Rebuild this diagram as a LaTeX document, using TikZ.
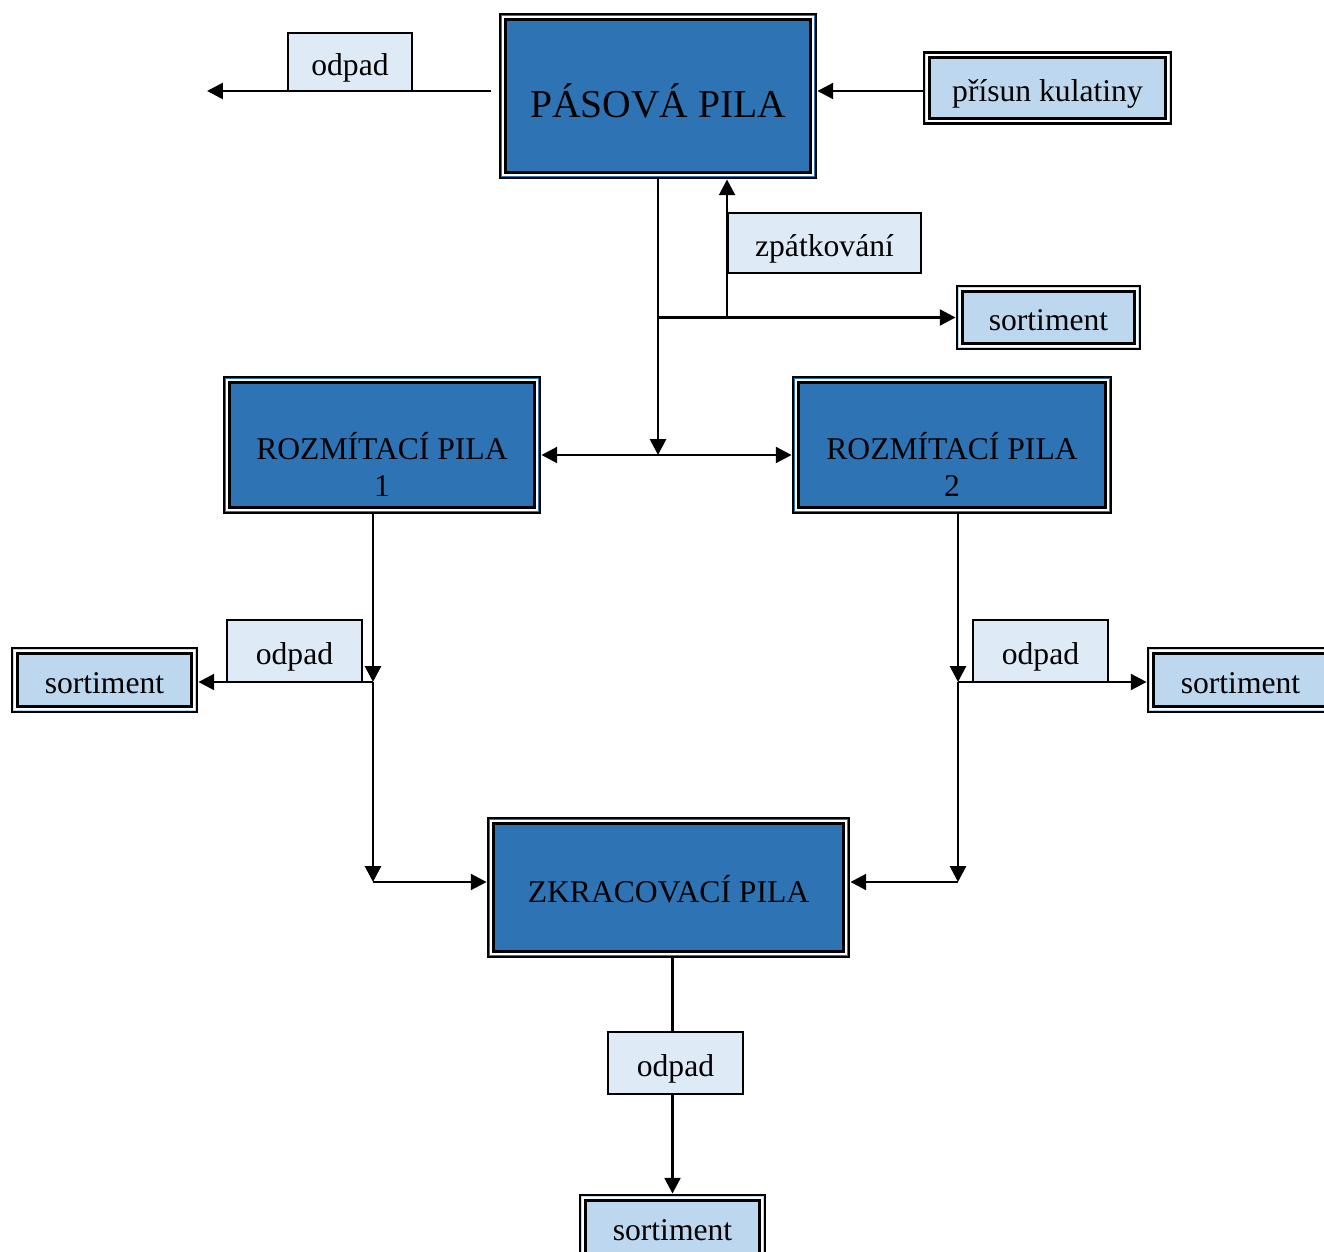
\documentclass[tikz,border=0pt]{standalone}
\usepackage{fontspec}
\setmainfont{Liberation Serif}
\usetikzlibrary{arrows.meta}
\definecolor{pila}{RGB}{46,116,181}
\definecolor{sortim}{RGB}{189,215,238}
\definecolor{odp}{RGB}{222,235,247}
\tikzset{
  spoj/.style={line width=1.6pt},
  sip/.style={spoj,-{Triangle[length=9pt,width=9pt]}},
  ramec/.style={draw, line width=1.6pt, inner sep=0pt, path picture={
      \draw[white,line width=1.1pt] ([shift={(0.055cm,-0.055cm)}]path picture bounding box.north west) rectangle ([shift={(-0.055cm,0.055cm)}]path picture bounding box.south east);
      \draw[black,line width=1.9pt] ([shift={(0.105cm,-0.105cm)}]path picture bounding box.north west) rectangle ([shift={(-0.105cm,0.105cm)}]path picture bounding box.south east);}},
  stroj/.style={ramec, fill=pila},
  popis/.style={text height=15pt, text depth=0pt},
  sortbox/.style={ramec, popis, fill=sortim, minimum width=3.7cm, minimum height=1.28cm},
  odpbox/.style={draw, popis, line width=1.1pt, fill=odp, inner sep=0pt, minimum width=2.7cm, minimum height=1.24cm}
}

\begin{document}
\begin{tikzpicture}[x=1cm,y=-1cm,font=\fontsize{18}{21}\selectfont]
\useasboundingbox (0,0) rectangle (26.48,25.04);
% pily
\node[stroj, minimum width=6.32cm, minimum height=3.28cm, text height=24pt, text depth=0pt, font=\fontsize{22.5}{27}\selectfont] (pasova) at (13.16,1.92) {PÁSOVÁ PILA};
\node[stroj, minimum width=6.32cm, minimum height=2.72cm] (rozm1) at (7.64,8.9) {};
\node[align=center] (rozm1t) at (7.64,9.28) {ROZMÍTACÍ PILA\\1};
\node[stroj, minimum width=6.36cm, minimum height=2.72cm] (rozm2) at (19.04,8.9) {};
\node[align=center] (rozm2t) at (19.04,9.28) {ROZMÍTACÍ PILA\\2};
\node[stroj, minimum width=7.22cm, minimum height=2.78cm, text height=17pt, text depth=0pt] (zkrac) at (13.37,17.75) {ZKRACOVACÍ PILA};

\node[ramec, popis, fill=sortim, minimum width=4.94cm, minimum height=1.42cm] (prisun) at (20.95,1.76) {přísun kulatiny};
\node[odpbox, minimum width=2.48cm, minimum height=1.16cm] (odpad1) at (7.0,1.24) {odpad};
\node[odpbox, minimum width=3.86cm, minimum height=1.2cm] (zpatk) at (16.49,4.86) {zpátkování};
\node[sortbox, minimum width=3.66cm, minimum height=1.26cm] (sort1) at (20.97,6.35) {sortiment};

\node[odpbox] (odpadL) at (5.89,13.02) {odpad};
\node[sortbox] (sortL) at (2.09,13.6) {sortiment};
\node[odpbox] (odpadR) at (20.81,13.02) {odpad};
\node[sortbox] (sortR) at (24.81,13.6) {sortiment};
\node[odpbox] (odpadB) at (13.51,21.26) {odpad};
\node[sortbox] (sortB) at (13.45,24.54) {sortiment};

\coordinate (vlevo) at (4.14,1.82);
\coordinate (j1) at (pasova.south |- sort1.west);
\coordinate (j2) at (13.16,9.1);
\coordinate (l1) at (7.46,13.64);
\coordinate (l2) at (7.46,17.64);
\coordinate (r1) at (19.16,13.64);
\coordinate (r2) at (19.16,17.64);

\draw[sip, shorten <=4.5pt] (pasova.west |- vlevo) -- (vlevo);
\draw[sip] (prisun.west |- vlevo) -- (pasova.east |- vlevo);
\draw[sip] (pasova.south) -- (j2);
\draw[sip] (j1) -- (sort1.west);
\draw[sip] (zpatk.west |- j1) -- (zpatk.west |- pasova.south);
\draw[sip] (j2) -- (rozm1.east |- j2);
\draw[sip] (j2) -- (rozm2.west |- j2);

\draw[sip] (rozm1.south -| l1) -- (l1);
\draw[sip] (l1) -- (l2);
\draw[sip] (l1) -- (sortL.east |- l1);
\draw[sip] (l2) -- (zkrac.west |- l2);
\draw[sip] (rozm2.south -| r1) -- (r1);
\draw[sip] (r1) -- (r2);
\draw[sip] (r1) -- (sortR.west |- r1);
\draw[sip] (r2) -- (zkrac.east |- r2);

\draw[spoj] (zkrac.south -| sortB.north) -- (odpadB.north -| sortB.north);
\draw[sip] (odpadB.south -| sortB.north) -- (sortB.north);
\end{tikzpicture}
\end{document}
